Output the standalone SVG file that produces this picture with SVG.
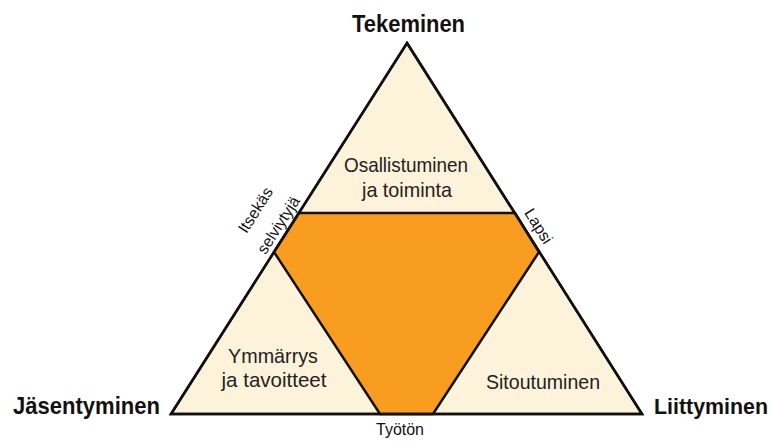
<svg xmlns="http://www.w3.org/2000/svg" width="775" height="443" viewBox="0 0 775 443">
<style>
.bg{fill:#ffffff}
.cream{fill:#FDF2DA;stroke:#111;stroke-width:2.5;stroke-linejoin:miter}
.orange{fill:#F89D20;stroke:#111;stroke-width:2.5;stroke-linejoin:miter}
.edge{fill:none;stroke:#111;stroke-width:2.5}
.corner{font-family:"Liberation Sans",Arial,sans-serif;font-weight:bold;font-size:24px;fill:#111}
.inner{font-family:"Liberation Sans",Arial,sans-serif;font-size:21px;fill:#222;text-anchor:middle}
.side{font-family:"Liberation Sans",Arial,sans-serif;font-size:16px;fill:#111;text-anchor:middle}
</style>
<rect class="bg" x="0" y="0" width="775" height="443"/>
<g id="triangle">
<polygon class="cream" points="407,43 642,414 171,414"/>
</g>
<g id="center">
<polygon class="orange" points="299,213 515,213 539,252 433,414 380,414 274,252"/>
</g>
<g id="connectors">
<polygon class="edge" points="407,43 642,414 171,414"/>
</g>
<g id="tekeminen"><text class="corner" x="352" y="32" textLength="113" lengthAdjust="spacingAndGlyphs">Tekeminen</text></g>
<g id="jasentyminen"><text class="corner" x="13" y="414" textLength="147" lengthAdjust="spacingAndGlyphs">Jäsentyminen</text></g>
<g id="liittyminen"><text class="corner" x="654" y="414" style="font-size:22px" textLength="114" lengthAdjust="spacingAndGlyphs">Liittyminen</text></g>
<g id="osallistuminen"><text class="inner" x="406" y="172" textLength="124" lengthAdjust="spacingAndGlyphs">Osallistuminen</text><text class="inner" x="407" y="197" textLength="90" lengthAdjust="spacingAndGlyphs">ja toiminta</text></g>
<g id="ymmarrys"><text class="inner" x="273" y="363" textLength="90" lengthAdjust="spacingAndGlyphs">Ymmärrys</text><text class="inner" x="274" y="387" textLength="105" lengthAdjust="spacingAndGlyphs">ja tavoitteet</text></g>
<g id="sitoutuminen"><text class="inner" x="543" y="389" textLength="114" lengthAdjust="spacingAndGlyphs">Sitoutuminen</text></g>
<g id="tyoton"><text class="side" x="400" y="435">Työtön</text></g>
<g id="itsekas">
<text class="side" transform="translate(260,213) rotate(-57.5)">Itsekäs</text>
<text class="side" transform="translate(283,228) rotate(-57.5)">selviytyjä</text>
</g>
<g id="lapsi"><text class="side" transform="translate(534,229) rotate(57.5)">Lapsi</text></g>
</svg>
